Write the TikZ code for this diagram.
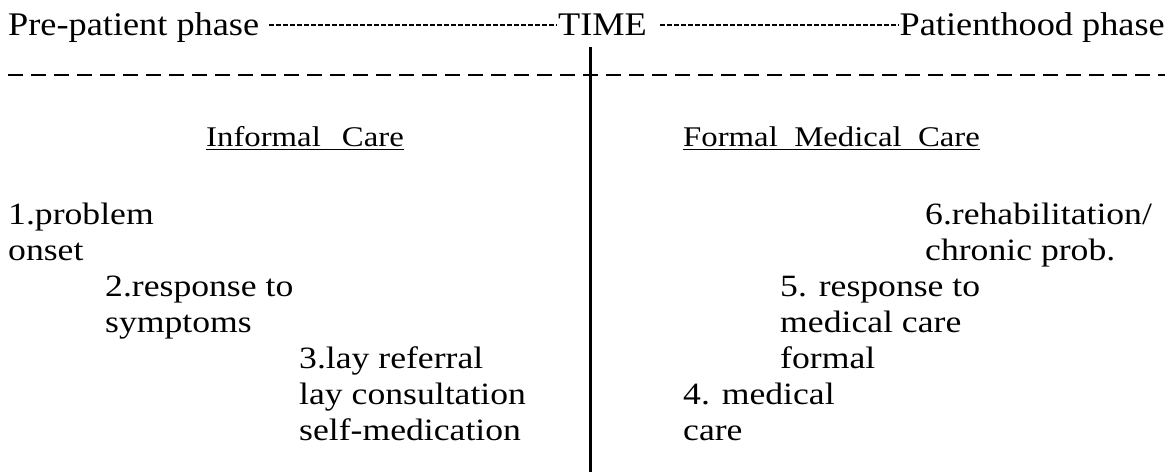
\documentclass[tikz,border=0pt]{standalone}
\usepackage{fontspec}
\usepackage{tikz}
\usetikzlibrary{positioning}
\newfontfamily\headfont[FakeStretch=1.1]{Liberation Serif}
\newfontfamily\bodyfont[FakeStretch=1.15]{Liberation Serif}

\begin{document}
\begin{tikzpicture}[x=1pt,y=-1pt,
  every node/.style={inner sep=0pt,align=left},
  phase/.style={anchor=base west,font=\headfont\fontsize{33}{33}\selectfont},
  heading/.style={anchor=base west,font=\bodyfont\fontsize{28.5}{28.5}\selectfont},
  item/.style={anchor=base west,font=\bodyfont\fontsize{31}{36}\selectfont},
  hyphens/.style={line width=2.2pt,dash pattern=on 5pt off 2pt},
  rule/.style={line width=2pt,dash pattern=on 15pt off 8pt}]
  \useasboundingbox (0,0) rectangle (1172,472);

  % time axis
  \node[phase] (pre) at (8,35) {Pre-patient phase};
  \node[phase] (time) at (558,35) {TIME};
  \node[phase,anchor=base east] (post) at (1165,35) {Patienthood phase};
  \draw[hyphens] ([shift={(10,-10)}]pre.base east) -- ([shift={(-1,-10)}]time.base west);
  \draw[hyphens] ([shift={(13,-10)}]time.base east) -- ([shift={(-1,-10)}]post.base west);

  \coordinate (ruleL) at (8,75);
  \coordinate (ruleR) at (1165,75);
  \draw[rule] (ruleL) -- (ruleR);
  \coordinate (divT) at (590,47);
  \coordinate (divB) at (590,472);
  \draw[line width=3pt] (divT) -- (divB);

  % the two sides (base = last line of a node)
  \node[heading] (informal) at (206,146) {Informal\ \ \,Care};
  \node[heading] (formal) at (683,146) {Formal\ \ Medical\ \ Care};
  \draw[line width=1.6pt] ([yshift=-3.5]informal.base west) -- ([yshift=-3.5]informal.base east);
  \draw[line width=1.6pt] ([yshift=-3.5]formal.base west) -- ([yshift=-3.5]formal.base east);

  \node[item] (onset) at (8,260) {1.problem\\onset};
  \node[item] (symptoms) at (105,332) {2.response to\\symptoms};
  \node[item] (lay) at (299,440) {3.lay referral\\lay consultation\\self-medication};

  \node[item] (medical) at (683,440) {4. medical\\care};
  \node[item] (response) at (780,368) {5. response to\\medical care\\formal};
  \node[item] (rehab) at (925,260) {6.rehabilitation/\\chronic prob.};
\end{tikzpicture}
\end{document}
